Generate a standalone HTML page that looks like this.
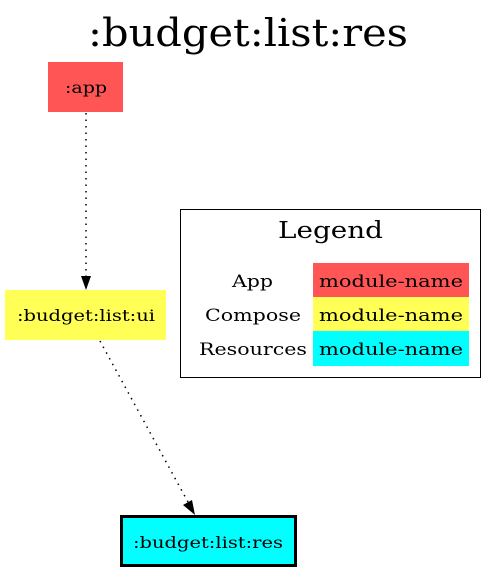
<!DOCTYPE html>
<html><head><style>body{margin:0;background:#fff}</style></head><body>
<svg width="497" height="572" xmlns="http://www.w3.org/2000/svg" font-family="'DejaVu Serif',serif">
<rect width="497" height="572" fill="#fff"/>
<text x="88" y="46" font-size="38" textLength="320" lengthAdjust="spacingAndGlyphs">:budget:list:res</text>
<rect x="48" y="62" width="75" height="50" fill="#ff5555"/>
<text x="65" y="93" font-size="16" textLength="42" lengthAdjust="spacingAndGlyphs">:app</text>
<rect x="5" y="290" width="161" height="50" fill="#ffff55"/>
<text x="17" y="321" font-size="16" textLength="138" lengthAdjust="spacingAndGlyphs">:budget:list:ui</text>
<rect x="121.5" y="516.5" width="174" height="49" fill="#00ffff" stroke="#000" stroke-width="3"/>
<text x="133" y="548" font-size="16" textLength="150" lengthAdjust="spacingAndGlyphs">:budget:list:res</text>
<line x1="86" y1="113" x2="86" y2="276" stroke="#000" stroke-dasharray="1.5,5" stroke-width="1.5"/>
<polygon points="81,276 91,276 86,290" fill="#000"/>
<line x1="100" y1="341" x2="188" y2="502" stroke="#000" stroke-dasharray="1.5,5" stroke-width="1.5"/>
<polygon points="183,505 192,500 195,515" fill="#000"/>
<rect x="180.5" y="209.5" width="300" height="168" fill="none" stroke="#000"/>
<text x="278" y="238" font-size="23" textLength="105" lengthAdjust="spacingAndGlyphs">Legend</text>
<rect x="313" y="263" width="156" height="34" fill="#ff5555"/>
<rect x="313" y="297" width="156" height="34" fill="#ffff55"/>
<rect x="313" y="331" width="156" height="35" fill="#00ffff"/>
<g font-size="17">
<text x="232" y="287" textLength="41" lengthAdjust="spacingAndGlyphs">App</text>
<text x="205" y="321" textLength="96" lengthAdjust="spacingAndGlyphs">Compose</text>
<text x="199" y="355" textLength="108" lengthAdjust="spacingAndGlyphs">Resources</text>
<text x="319" y="287" textLength="144" lengthAdjust="spacingAndGlyphs">module-name</text>
<text x="319" y="321" textLength="144" lengthAdjust="spacingAndGlyphs">module-name</text>
<text x="319" y="355" textLength="144" lengthAdjust="spacingAndGlyphs">module-name</text>
</g>
</svg>
</body></html>
